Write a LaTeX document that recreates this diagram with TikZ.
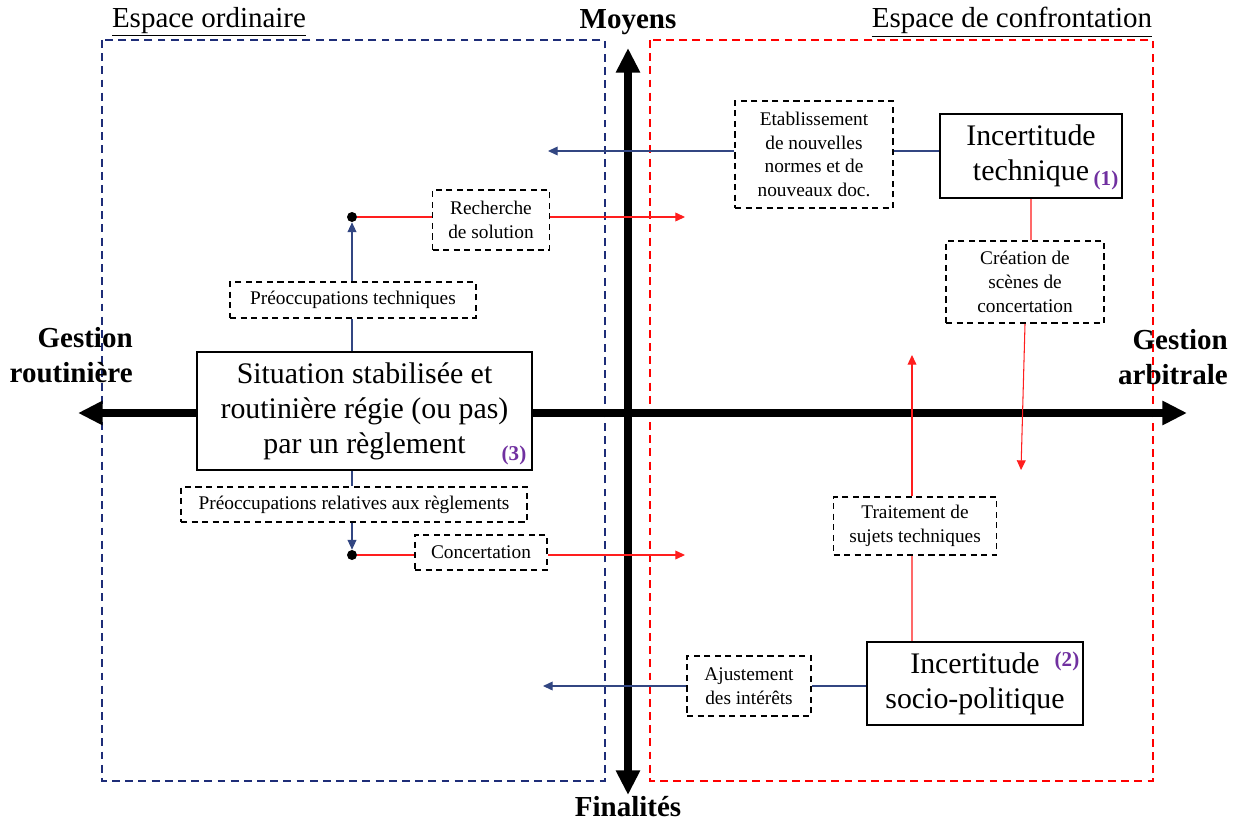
\documentclass[tikz,border=0pt]{standalone}
\usepackage{fontspec}
\setmainfont{Liberation Serif}
\usetikzlibrary{positioning, arrows, arrows.meta, shapes}
\definecolor{bleuligne}{RGB}{50,70,130}
\definecolor{bleucadre}{RGB}{30,45,120}
\definecolor{rougeligne}{RGB}{255,30,30}
\definecolor{roseligne}{RGB}{255,105,105}
\definecolor{violetnum}{RGB}{112,48,160}
\tikzset{
        axe/.style={line width=4pt, {Triangle[length=14pt,width=13pt]}-{Triangle[length=14pt,width=13pt]}}, % the two thick axes
        fleche/.style={-{Triangle[length=5.5pt,width=5pt]}}, % small arrow tips
        lienb/.style={bleuligne, line width=0.6pt}, % blue links
        lienr/.style={rougeligne, line width=0.6pt}, % red links
        titre/.style={font=\fontsize{16.5}{19.5}\selectfont},
        pole/.style={font=\fontsize{16.5}{19.5}\selectfont\bfseries, inner sep=0pt},
        num/.style={font=\fontsize{12}{12}\selectfont\bfseries, text=violetnum, inner sep=0pt},
    }
\tikzstyle{action}=[draw, dashed, dash pattern=on 3.5pt off 2.5pt, line width=1pt, fill=white, align=center, inner sep=0pt, font=\fontsize{11}{13.5}\selectfont]
\tikzstyle{etat}=[draw, line width=0.9pt, fill=white, align=center, inner sep=0pt, font=\fontsize{17}{20}\selectfont]
\tikzstyle{point}=[circle, fill=black, minimum size=0.2cm, inner sep=0pt]

\begin{document}
\begin{tikzpicture}[x=0.02cm, y=-0.02cm]
    \useasboundingbox (0,0) rectangle (1236,821);

    % the two spaces
    \draw[bleucadre, line width=0.8pt, dash pattern=on 4.5pt off 3pt] (102,40) rectangle (605,781);
    \draw[red, line width=0.8pt, dash pattern=on 4.5pt off 3pt] (650,40) rectangle (1153,781);
    \node[titre] (esp-ord) at (209,22) {\underline{Espace ordinaire}};
    \node[titre] (esp-conf) at (1012,22) {\underline{Espace de confrontation}};

    % axes
    \coordinate (ax-o) at (78,413);
    \coordinate (ax-e) at (1187,413);
    \coordinate (ax-n) at (628,48);
    \coordinate (ax-s) at (628,795);
    \draw[axe] (ax-o) -- (ax-e);
    \draw[axe] (ax-n) -- (ax-s);
    \node[pole] (moyens) at (628,22) {Moyens};
    \node[pole] (finalites) at (628,807) {Finalités};
    \node[pole, align=right, anchor=east] (routine) at (133,355) {Gestion\\routinière};
    \node[pole, align=right, anchor=east] (arbitre) at (1228,357) {Gestion\\arbitrale};

    % states
    \node[etat, minimum width=3.64cm, minimum height=1.68cm] (inctech) at (1031,156) {Incertitude\\technique};
    \node[etat, minimum width=4.32cm, minimum height=1.66cm] (incsoc) at (975,683.5) {Incertitude\\socio-politique};
    \node[etat, minimum width=6.7cm, minimum height=2.36cm] (situ) at (364.5,411) {Situation stabilisée et\\routinière régie (ou pas)\\par un règlement};
    \node[num] (n1) at (1106,180) {(1)};
    \node[num] (n2) at (1067,661) {(2)};
    \node[num] (n3) at (514,455) {(3)};

    % actions
    \node[action, minimum width=3.16cm, minimum height=2.14cm] (etab) at (814,154.5) {Etablissement\\de nouvelles\\normes et de\\nouveaux doc.};
    \node[action, minimum width=2.34cm, minimum height=1.2cm] (rech) at (491,220) {Recherche\\de solution};
    \node[action, minimum width=4.92cm, minimum height=0.72cm] (ptech) at (353,300) {Préoccupations techniques};
    \node[action, minimum width=6.92cm, minimum height=0.7cm] (preg) at (354,504.5) {Préoccupations relatives aux règlements};
    \node[action, minimum width=2.64cm, minimum height=0.7cm] (conc) at (481,552.5) {Concertation};
    \node[action, minimum width=3.16cm, minimum height=1.64cm] (creat) at (1025,282) {Création de\\scènes de\\concertation};
    \node[action, minimum width=3.26cm, minimum height=1.16cm] (trait) at (915,526) {Traitement de\\sujets techniques};
    \node[action, minimum width=2.48cm, minimum height=1.2cm] (ajust) at (749,686) {Ajustement\\des intérêts};

    % junctions and free ends
    \node[point] (d1) at (352,217) {};
    \node[point] (d2) at (352,555) {};
    \coordinate (e1) at (548,151);
    \coordinate (e2) at (685,217);
    \coordinate (e3) at (685,555);
    \coordinate (e4) at (543,686);
    \coordinate (e5) at (1021,470);
    \coordinate (e6) at (912,355);

    % blue links
    \draw[lienb] (inctech.west |- e1) -- (etab.east |- e1);
    \draw[lienb, fleche] (etab.west |- e1) -- (e1);
    \draw[lienb] (d1 |- situ.north) -- (d1 |- ptech.south);
    \draw[lienb, fleche] (d1 |- ptech.north) -- (d1.south);
    \draw[lienb] (d2 |- situ.south) -- (d2 |- preg.north);
    \draw[lienb, fleche] (d2 |- preg.south) -- (d2.north);
    \draw[lienb] (incsoc.west |- ajust) -- (ajust.east);
    \draw[lienb, fleche] (ajust.west) -- (e4);

    % red links
    \draw[lienr] (d1) -- (rech.west |- d1);
    \draw[lienr, fleche] (rech.east |- d1) -- (e2);
    \draw[lienr] (d2) -- (conc.west |- d2);
    \draw[lienr, fleche] (conc.east |- d2) -- (e3);
    \draw[roseligne, line width=0.6pt] (inctech.south) -- (inctech.south |- creat.north);
    \draw[lienr, fleche] (creat.south) -- (e5);
    \draw[roseligne, line width=0.6pt] (e6 |- incsoc.north) -- (e6 |- trait.south);
    \draw[lienr, fleche] (e6 |- trait.north) -- (e6);
  \end{tikzpicture}
\end{document}
